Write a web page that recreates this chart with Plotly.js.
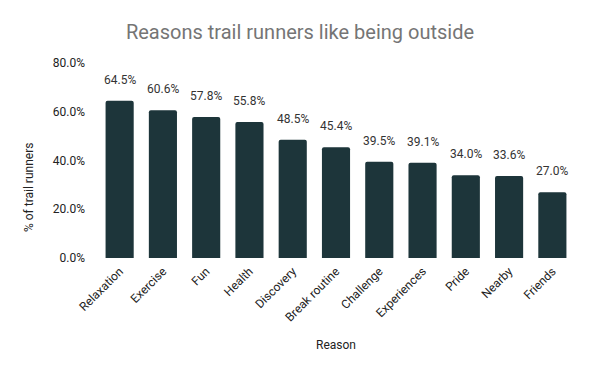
<!DOCTYPE html>
<html><head><meta charset="utf-8">
<script src="https://cdn.plot.ly/plotly-3.0.1.min.js"></script>
<style>html,body{margin:0;padding:0;background:#fff}#chart{width:600px;height:371px}</style>
</head><body><div id="chart"></div>
<script>
const reasons = ["Relaxation","Exercise","Fun","Health","Discovery","Break routine","Challenge","Experiences","Pride","Nearby","Friends"];
const percents = [64.5,60.6,57.8,55.8,48.5,45.4,39.5,39.1,34.0,33.6,27.0];
const yTicks = [0,20,40,60,80];

const barColor = "#1d353a";
const font = "Roboto, sans-serif";

const annotations = reasons.map((r,i)=>({
  x: r, y: percents[i], xref:"x", yref:"y",
  text: percents[i].toFixed(1) + "%",
  showarrow:false, yanchor:"bottom", yshift:12,
  font:{family:font,size:12,color:"#333333"}
}));
annotations.push({
  text:"% of trail runners", xref:"paper", yref:"paper", x:-0.145, y:0.364,
  xanchor:"center", yanchor:"middle", textangle:-90, showarrow:false,
  font:{family:font,size:12,color:"#222"}
});

Plotly.newPlot("chart",[{
  type:"bar", x:reasons, y:percents,
  marker:{color:barColor, cornerradius:2},
  hoverinfo:"none"
}],{
  width:600,height:371,
  margin:{l:98,r:26,t:63,b:113},
  paper_bgcolor:"#fff",plot_bgcolor:"#fff",
  bargap:0.35,
  showlegend:false,
  title:{text:"Reasons trail runners like being outside",x:0.5,xanchor:"center",y:0.915,yanchor:"middle",
    font:{family:font,size:20,color:"#757575"}},
  xaxis:{tickangle:-45,tickfont:{family:font,size:12,color:"#222"},showgrid:false,zeroline:false,showline:false,ticks:"",
    ticklabelstandoff:3,
    title:{text:"Reason",font:{family:font,size:12,color:"#222"},standoff:17}},
  yaxis:{range:[0,80],tickvals:yTicks,ticktext:yTicks.map(v=>v.toFixed(1)+"%"),showgrid:false,zeroline:false,showline:false,ticks:"",
    tickfont:{family:font,size:12,color:"#222"},ticklabelstandoff:12},
  annotations:annotations
},{staticPlot:true});
</script></body></html>
